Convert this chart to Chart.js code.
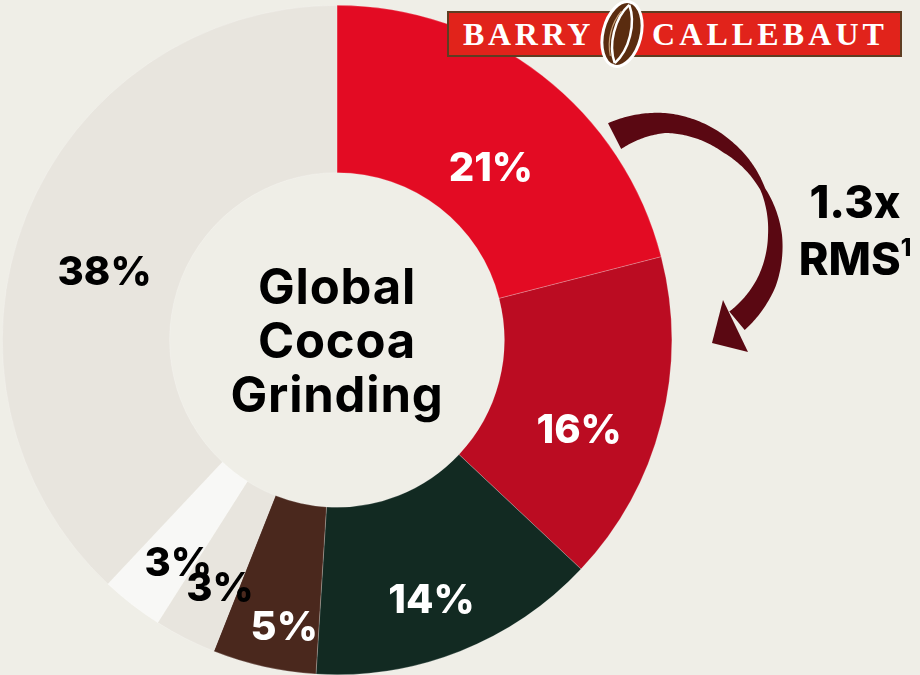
<!DOCTYPE html>
<html>
<head>
<meta charset="utf-8">
<script src="https://cdn.jsdelivr.net/npm/chart.js@4.4.1/dist/chart.umd.min.js"></script>
<style>
    html, body { margin: 0; padding: 0; }
    body { width: 920px; height: 675px; background: #efeee7; position: relative; overflow: hidden; font-family: Inter, "Open Sans", sans-serif; }
    #chart { position: absolute; left: 0; top: 0; }
    .center-title { position: absolute; left: 182px; top: 260px; width: 310px; text-align: center; font-weight: 700; font-size: 49px; line-height: 54px; letter-spacing: 0.8px; color: #000; }
    .rms { position: absolute; left: 770px; top: 173px; width: 170px; text-align: center; font-weight: 800; font-size: 45px; line-height: 57px; color: #000; }
    .rms sup { font-size: 24px; line-height: 0; vertical-align: 19px; }
    .logo { position: absolute; left: 447px; top: 11px; width: 451px; height: 42px; background: #e1231b; border: 2px solid #5e3d22; }
    .logo span { position: absolute; top: 2px; font-family: "Liberation Serif", serif; font-weight: 700; font-size: 32px; line-height: 38px; color: #fff; }
    .logo .l { left: 14px; letter-spacing: 3.7px; }
    .logo .r { left: 203px; letter-spacing: 4.1px; }
    .bean { position: absolute; left: 597px; top: 0; }
</style>
</head>
<body>
<canvas id="chart" width="920" height="675"></canvas>
<div class="center-title">Global<br>Cocoa<br>Grinding</div>
<div class="rms">1.3x<br>RMS<sup>1</sup></div>
<div class="logo"><span class="l">BARRY</span><span class="r">CALLEBAUT</span></div>
<svg class="bean" width="50" height="70" viewBox="0 0 50 70">
    <g transform="rotate(14 25 34)">
        <ellipse cx="25" cy="34" rx="19" ry="33" fill="#5a2c10" stroke="#fff" stroke-width="3"/>
        <path d="M25 4 C14 20 14 48 25 64" fill="none" stroke="#fff" stroke-width="2.5"/>
        <path d="M25 4 C36 20 36 48 25 64" fill="none" stroke="#fff" stroke-width="2.5"/>
        <path d="M19 12 C12 26 12 44 19 58" fill="none" stroke="#c9a27a" stroke-width="1.2"/>
    </g>
</svg>
<script>
    const categories = ['Barry Callebaut', 'Competitor A', 'Competitor B', 'Competitor C', 'Competitor D', 'Competitor E', 'Others'];
    const shares = [21, 16, 14, 5, 3, 3, 38];
    const sliceColors = ['#e30b23', '#bb0c22', '#122a22', '#4a281d', '#e8e5de', '#f8f8f6', '#e8e5de'];
    const labelColors = ['#fff', '#fff', '#fff', '#fff', '#000', '#000', '#000'];
    // small manual shifts from each slice's centroid, like the original slide
    const labelNudge = [[0, 25], [-1, 26], [2, 25], [2, 41], [-3, 23], [-5, 23], [1, 23]];

    // percentage labels inside the slices
    const sliceLabels = {
        id: 'sliceLabels',
        afterDatasetsDraw(chart) {
            const ctx = chart.ctx;
            const arcs = chart.getDatasetMeta(0).data;
            ctx.save();
            ctx.font = '800 40px Inter, "Open Sans", sans-serif';
            ctx.textAlign = 'center';
            ctx.textBaseline = 'alphabetic';
            arcs.forEach((arc, i) => {
                const p = arc.getCenterPoint();
                ctx.fillStyle = labelColors[i];
                ctx.fillText(shares[i] + '%', p.x + labelNudge[i][0], p.y + labelNudge[i][1] + 14.5);
            });
            ctx.restore();
        }
    };

    // curved arrow next to the chart
    const curvedArrow = {
        id: 'curvedArrow',
        afterDraw(chart) {
            const ctx = chart.ctx;
            const cx = 665, cy = 235;
            const rad = d => d * Math.PI / 180;
            const keys = [[-117, 111, 29], [-90, 112, 20], [-55, 108, 14], [-25, 108, 5], [0, 110, 14], [25, 112, 20], [50, 112, 24]];
            function at(a) {
                for (let k = 0; k < keys.length - 1; k++) {
                    const [a0, r0, w0] = keys[k], [a1, r1, w1] = keys[k + 1];
                    if (a >= a0 && a <= a1) {
                        const t = (a - a0) / (a1 - a0);
                        return [r0 + (r1 - r0) * t, w0 + (w1 - w0) * t];
                    }
                }
                return [keys[keys.length - 1][1], keys[keys.length - 1][2]];
            }
            const outer = [], inner = [];
            for (let a = -117; a <= 50; a += 1) {
                const [r, w] = at(a);
                outer.push([cx + (r + w / 2) * Math.cos(rad(a)), cy + (r + w / 2) * Math.sin(rad(a))]);
                inner.push([cx + (r - w / 2) * Math.cos(rad(a)), cy + (r - w / 2) * Math.sin(rad(a))]);
            }
            ctx.save();
            ctx.fillStyle = '#5a0812';
            ctx.beginPath();
            outer.forEach((p, i) => i ? ctx.lineTo(p[0], p[1]) : ctx.moveTo(p[0], p[1]));
            for (let i = inner.length - 1; i >= 0; i--) ctx.lineTo(inner[i][0], inner[i][1]);
            ctx.closePath();
            ctx.fill();
            // arrow head
            ctx.beginPath();
            ctx.moveTo(723, 300);
            ctx.lineTo(712, 343);
            ctx.lineTo(748, 352);
            ctx.closePath();
            ctx.fill();
            ctx.restore();
        }
    };

    new Chart(document.getElementById('chart'), {
        type: 'doughnut',
        data: {
            labels: categories,
            datasets: [{
                data: shares,
                backgroundColor: sliceColors,
                borderWidth: 0.6,
                borderColor: 'rgba(255,255,255,0.35)'
            }]
        },
        options: {
            responsive: false,
            animation: false,
            cutout: '50%',
            layout: { padding: { left: 2, top: 5, right: 248, bottom: 0 } },
            plugins: {
                legend: { display: false },
                tooltip: { enabled: false }
            }
        },
        plugins: [sliceLabels, curvedArrow]
    });
</script>
</body>
</html>
